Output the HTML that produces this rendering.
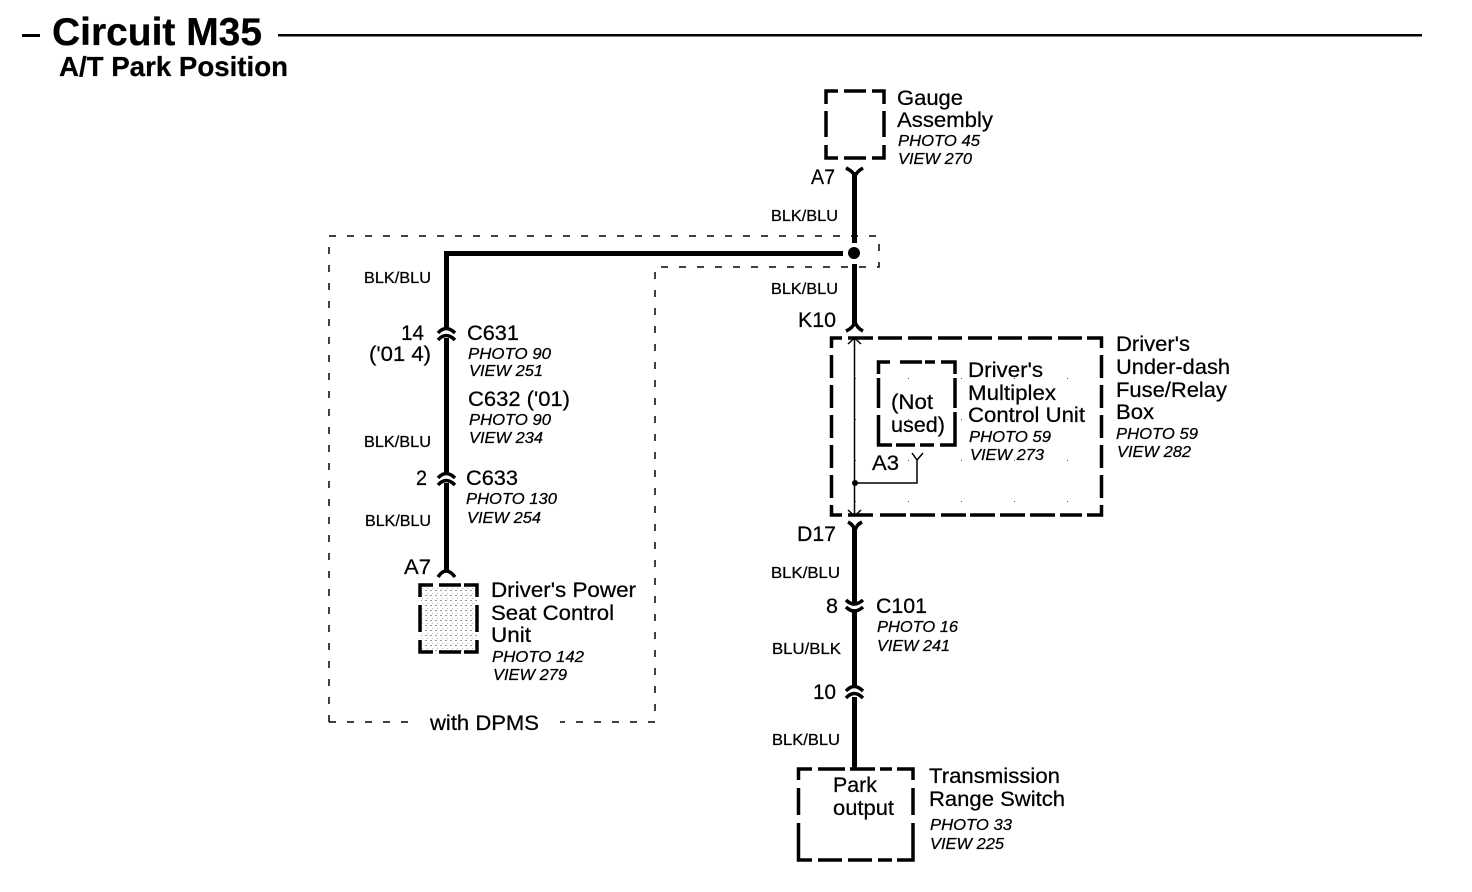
<!DOCTYPE html>
<html><head><meta charset="utf-8"><style>
html,body{margin:0;padding:0;background:#fff}
svg{display:block}
text{font-family:"Liberation Sans",sans-serif;fill:#000;stroke:#000;stroke-width:.25}
.b{font-size:21.5px}
.i{font-size:16px;font-style:italic}
.w{font-size:15.5px}
.t{font-weight:bold}
.thin{fill:none;stroke:#000;stroke-width:1.5;stroke-dasharray:7 11}
.box{fill:none;stroke:#000;stroke-width:3.5}
.wire{fill:none;stroke:#000;stroke-width:5}
.c{fill:none;stroke:#000;stroke-width:3.5}
.f{fill:none;stroke:#000;stroke-width:1.5}
</style></head><body>
<svg width="1472" height="892" viewBox="0 0 1472 892" xmlns="http://www.w3.org/2000/svg">
<defs>
<pattern id="dots" width="5" height="5" patternUnits="userSpaceOnUse"><rect width="5" height="5" fill="#fff"/><rect width="2" height="1" fill="#999"/><rect x="2" y="3" width="1" height="1" fill="#bbb"/></pattern>
<pattern id="sp" width="53" height="41" patternUnits="userSpaceOnUse"><rect x="7" y="9" width="1" height="1" fill="#555"/></pattern>
</defs>

<rect x="22" y="34" width="18" height="3"/>
<rect x="278" y="34" width="1144" height="2.5"/>
<text class="t" x="52" y="45" font-size="39" textLength="210" lengthAdjust="spacingAndGlyphs">Circuit M35</text>
<text class="t" x="59" y="76" font-size="27.500" textLength="229" lengthAdjust="spacingAndGlyphs">A/T Park Position</text>

<!-- thin dashed option box -->
<path class="thin" d="M329 722V236H879V267H655V722H560M408 722H329"/>

<!-- gauge box -->
<path class="box" d="M838 91H826V104M844 91H866M872 91H884V104M826 111V137M884 111V137M826 145V158H838M844 158H866M872 158H884V145"/>

<!-- fills -->
<rect x="832" y="340" width="268" height="174" fill="url(#sp)"/>
<rect x="421" y="586" width="56" height="65" fill="url(#dots)"/>

<!-- wires -->
<path class="wire" d="M854.5 172V243M854.5 264V326M843 253.500H446.500V327M446.500 338V472M446.500 483V572M854.500 526V603M854.500 612V686M854.500 697V768"/>
<circle cx="854" cy="253" r="6"/>

<!-- connectors -->
<path class="c" d="M846 168Q854 172 855 177Q856 172 863 168"/>
<path class="c" d="M846 331Q853 328 855 322Q857 328 863 331"/>
<path class="c" d="M848 522Q854 525 855 531Q856 525 862 522"/>
<path class="c" d="M438 333Q446 324 455 333M438 340Q446 331 455 340"/>
<path class="c" d="M438 478Q446 469 455 478M438 485Q446 476 455 485"/>
<path class="c" d="M438 577Q446 565 455 577"/>
<path class="c" d="M846 600Q854 608 863 600M846 607Q854 615 863 607"/>
<path class="c" d="M846 691Q854 682 863 691M846 698Q854 689 863 698"/>

<!-- under-dash box -->
<path class="box" d="M842 338H831.500V348M848 338H873M878 338H902M908 338H932M938 338H962M968 338H992M998 338H1022M1028 338H1052M1058 338H1082M1087 338H1101.500V348M831.500 355V378M831.500 385V408M831.500 415V438M831.500 445V468M831.500 475V498M831.500 505V515H842M1101.500 355V378M1101.500 385V408M1101.500 415V438M1101.500 445V468M1101.500 475V498M1101.500 505V515H1087M848 515H873M880 515H906M910 515H935M941 515H966M970 515H995M1000 515H1025M1030 515H1055M1060 515H1082"/>

<!-- inner box -->
<path class="box" d="M890 362H878.500V374M900 362H922M925 362H935M941 362H955V374M878.500 378V408M878.500 415V445M955 378V408M955 412V438M878.500 432V445H892M896 445H915M920 445H934M940 445H955V436"/>

<!-- thin internal wire -->
<path class="f" d="M854.500 338V514M848 344L854.500 338L861 344M848 510L854.500 516L861 510M855 483H917V460M912 453L917 460L923 453"/>
<circle cx="855" cy="483" r="3"/>

<!-- seat box -->
<path class="box" d="M433 585H420V597M439 585H461M464 585H477V597M420 605V632M477 605V632M420 640V652H433M439 652H461M464 652H477V640"/>

<!-- park box -->
<path class="box" d="M812 769H798.500V780M818 769H845M850 769H875M880 769H892M897 769H913V780M798.500 788V815M798.500 823V850M913 788V815M913 823V850M798.500 850V860H812M818 860H842M848 860H872M878 860H892M897 860H913V850"/>

<!-- labels -->
<g class="b">
<text x="897" y="105" textLength="66" lengthAdjust="spacingAndGlyphs">Gauge</text>
<text x="897" y="127" textLength="96" lengthAdjust="spacingAndGlyphs">Assembly</text>
<text x="811" y="184" textLength="24" lengthAdjust="spacingAndGlyphs">A7</text>
<text x="798" y="327" textLength="38" lengthAdjust="spacingAndGlyphs">K10</text>
<text x="1116" y="351" textLength="74" lengthAdjust="spacingAndGlyphs">Driver's</text>
<text x="1116" y="374" textLength="114" lengthAdjust="spacingAndGlyphs">Under-dash</text>
<text x="1116" y="397" textLength="111" lengthAdjust="spacingAndGlyphs">Fuse/Relay</text>
<text x="1116" y="419" textLength="38" lengthAdjust="spacingAndGlyphs">Box</text>
<text x="968" y="377" textLength="75" lengthAdjust="spacingAndGlyphs">Driver's</text>
<text x="968" y="400" textLength="88" lengthAdjust="spacingAndGlyphs">Multiplex</text>
<text x="968" y="422" textLength="117" lengthAdjust="spacingAndGlyphs">Control Unit</text>
<text x="891" y="409" textLength="42" lengthAdjust="spacingAndGlyphs">(Not</text>
<text x="891" y="432" textLength="54" lengthAdjust="spacingAndGlyphs">used)</text>
<text x="872" y="470" textLength="27" lengthAdjust="spacingAndGlyphs">A3</text>
<text x="797" y="541" textLength="39" lengthAdjust="spacingAndGlyphs">D17</text>
<text x="826" y="613" textLength="12" lengthAdjust="spacingAndGlyphs">8</text>
<text x="876" y="613" textLength="51" lengthAdjust="spacingAndGlyphs">C101</text>
<text x="813" y="699" textLength="23" lengthAdjust="spacingAndGlyphs">10</text>
<text x="833" y="792" textLength="44" lengthAdjust="spacingAndGlyphs">Park</text>
<text x="833" y="815" textLength="61" lengthAdjust="spacingAndGlyphs">output</text>
<text x="929" y="783" textLength="131" lengthAdjust="spacingAndGlyphs">Transmission</text>
<text x="929" y="806" textLength="136" lengthAdjust="spacingAndGlyphs">Range Switch</text>
<text x="401" y="340" textLength="23" lengthAdjust="spacingAndGlyphs">14</text>
<text x="369" y="361" textLength="62" lengthAdjust="spacingAndGlyphs">('01 4)</text>
<text x="467" y="340" textLength="52" lengthAdjust="spacingAndGlyphs">C631</text>
<text x="468" y="406" textLength="102" lengthAdjust="spacingAndGlyphs">C632 ('01)</text>
<text x="416" y="485" textLength="11" lengthAdjust="spacingAndGlyphs">2</text>
<text x="466" y="485" textLength="52" lengthAdjust="spacingAndGlyphs">C633</text>
<text x="404" y="574" textLength="27" lengthAdjust="spacingAndGlyphs">A7</text>
<text x="491" y="597" textLength="145" lengthAdjust="spacingAndGlyphs">Driver's Power</text>
<text x="491" y="620" textLength="123" lengthAdjust="spacingAndGlyphs">Seat Control</text>
<text x="491" y="642" textLength="40" lengthAdjust="spacingAndGlyphs">Unit</text>
<text x="430" y="730" textLength="109" lengthAdjust="spacingAndGlyphs">with DPMS</text>
</g>
<g class="i">
<text x="898" y="146" textLength="82" lengthAdjust="spacingAndGlyphs">PHOTO 45</text>
<text x="898" y="164" textLength="74" lengthAdjust="spacingAndGlyphs">VIEW 270</text>
<text x="1116" y="439" textLength="82" lengthAdjust="spacingAndGlyphs">PHOTO 59</text>
<text x="1117" y="457" textLength="74" lengthAdjust="spacingAndGlyphs">VIEW 282</text>
<text x="969" y="442" textLength="82" lengthAdjust="spacingAndGlyphs">PHOTO 59</text>
<text x="970" y="460" textLength="74" lengthAdjust="spacingAndGlyphs">VIEW 273</text>
<text x="877" y="632" textLength="81" lengthAdjust="spacingAndGlyphs">PHOTO 16</text>
<text x="877" y="651" textLength="73" lengthAdjust="spacingAndGlyphs">VIEW 241</text>
<text x="930" y="830" textLength="82" lengthAdjust="spacingAndGlyphs">PHOTO 33</text>
<text x="930" y="849" textLength="74" lengthAdjust="spacingAndGlyphs">VIEW 225</text>
<text x="468" y="359" textLength="83" lengthAdjust="spacingAndGlyphs">PHOTO 90</text>
<text x="469" y="376" textLength="74" lengthAdjust="spacingAndGlyphs">VIEW 251</text>
<text x="469" y="425" textLength="82" lengthAdjust="spacingAndGlyphs">PHOTO 90</text>
<text x="469" y="443" textLength="74" lengthAdjust="spacingAndGlyphs">VIEW 234</text>
<text x="466" y="504" textLength="91" lengthAdjust="spacingAndGlyphs">PHOTO 130</text>
<text x="467" y="523" textLength="74" lengthAdjust="spacingAndGlyphs">VIEW 254</text>
<text x="492" y="662" textLength="92" lengthAdjust="spacingAndGlyphs">PHOTO 142</text>
<text x="493" y="680" textLength="74" lengthAdjust="spacingAndGlyphs">VIEW 279</text>
</g>
<g class="w">
<text x="771" y="221" textLength="67" lengthAdjust="spacingAndGlyphs">BLK/BLU</text>
<text x="771" y="294" textLength="67" lengthAdjust="spacingAndGlyphs">BLK/BLU</text>
<text x="771" y="578" textLength="69" lengthAdjust="spacingAndGlyphs">BLK/BLU</text>
<text x="772" y="654" textLength="69" lengthAdjust="spacingAndGlyphs">BLU/BLK</text>
<text x="772" y="745" textLength="68" lengthAdjust="spacingAndGlyphs">BLK/BLU</text>
<text x="364" y="283" textLength="67" lengthAdjust="spacingAndGlyphs">BLK/BLU</text>
<text x="364" y="447" textLength="67" lengthAdjust="spacingAndGlyphs">BLK/BLU</text>
<text x="365" y="526" textLength="66" lengthAdjust="spacingAndGlyphs">BLK/BLU</text>
</g>
</svg>
</body></html>
